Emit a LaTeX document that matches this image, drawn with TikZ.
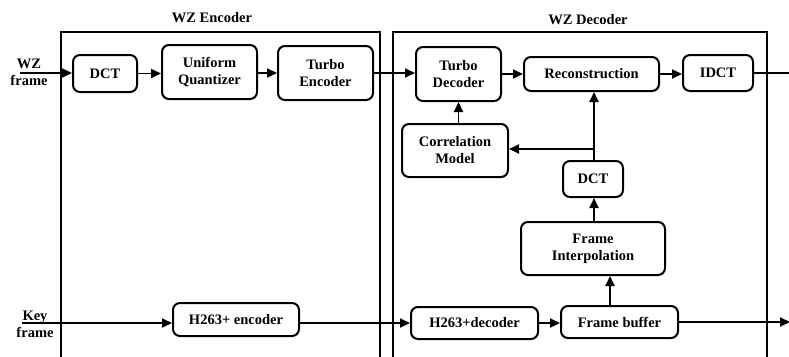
\documentclass[tikz,border=0pt]{standalone}
\usepackage{fontspec}
\setmainfont{Liberation Serif}
\usetikzlibrary{arrows.meta}
\begin{document}
\begin{tikzpicture}[x=1pt,y=-1pt,
  blk/.style={draw,line width=2pt,rounded corners=7pt,inner sep=0pt,align=center,font=\fontsize{14.5}{17}\selectfont\bfseries},
  lbl/.style={inner sep=0pt,align=center,font=\fontsize{14.5}{17}\selectfont\bfseries},
  arr/.style={line width=1.8pt,-{Triangle[length=10pt,width=9pt]}},
  ln/.style={line width=1.8pt},
  frame/.style={line width=2.6pt}]
\useasboundingbox (0,0) rectangle (789,356);
\clip (0,0) rectangle (789,356);
% outer frames
\draw[frame] (61,365) -- (61,32) -- (380,32) -- (380,365);
\draw[frame] (393,365) -- (393,32) -- (767,32) -- (767,365);
\node[lbl] (enct) at (212,18) {WZ Encoder};
\node[lbl] (dect) at (588,20) {WZ Decoder};
% encoder blocks
\node[blk,minimum width=64pt,minimum height=37pt] (dct1) at (105,73.5) {DCT};
\node[blk,minimum width=95pt,minimum height=54pt] (uq) at (209.5,72) {Uniform\\Quantizer};
\node[blk,minimum width=95pt,minimum height=54pt] (te) at (325.5,73) {Turbo\\Encoder};
\node[blk,minimum width=126pt,minimum height=33pt] (h263e) at (236,319.5) {H263+ encoder};
% decoder blocks
\node[blk,minimum width=85pt,minimum height=54pt] (td) at (458.5,74) {Turbo\\Decoder};
\node[blk,minimum width=135pt,minimum height=34pt] (rec) at (591.5,74) {Reconstruction};
\node[blk,minimum width=70pt,minimum height=36pt] (idct) at (718,73) {IDCT};
\node[blk,minimum width=106pt,minimum height=53pt] (cm) at (455,150.5) {Correlation\\Model};
\node[blk,minimum width=60pt,minimum height=36pt] (dct2) at (593,179) {DCT};
\node[blk,minimum width=144pt,minimum height=53pt] (fi) at (593,248.5) {Frame\\Interpolation};
\node[blk,minimum width=117pt,minimum height=32pt] (fb) at (619.5,322) {Frame buffer};
\node[blk,minimum width=127pt,minimum height=32pt] (h263d) at (474.5,323) {H263+decoder};
% labels
\node[lbl] (wzf) at (29,72.5) {WZ\\frame};
\node[lbl] (kf) at (35,324) {Key\\frame};
\coordinate (wzin) at (20,73);
\coordinate (kin) at (22,323);
\coordinate (out1) at (795,73);
\coordinate (out2) at (790,322);
\coordinate (br) at (594,149);
% connectors
\draw[arr] (wzin) -- (dct1.west |- wzin);
\draw[arr] (dct1) -- (uq.west |- dct1);
\draw[arr] (uq.east |- te) -- (te);
\draw[arr] (te) -- (td.west |- te);
\draw[arr] (td) -- (rec);
\draw[arr] (rec) -- (idct.west |- rec);
\draw[ln] (idct.east |- idct) -- (out1);
\draw[arr] (cm.north -| td) -- (td.south);
\draw[arr] (dct2.north -| br) -- (rec.south -| br);
\draw[arr] (br) -- (cm.east |- br);
\draw[arr] (fi.north -| br) -- (dct2.south -| br);
\draw[arr] (fb.north -| 610,0) -- (fi.south -| 610,0);
\draw[arr] (kin) -- (h263e.west |- kin);
\draw[arr] (h263e.east |- h263d) -- (h263d.west);
\draw[arr] (h263d) -- (fb.west |- h263d);
\draw[arr] (fb.east |- out2) -- (out2);
\end{tikzpicture}
\end{document}
